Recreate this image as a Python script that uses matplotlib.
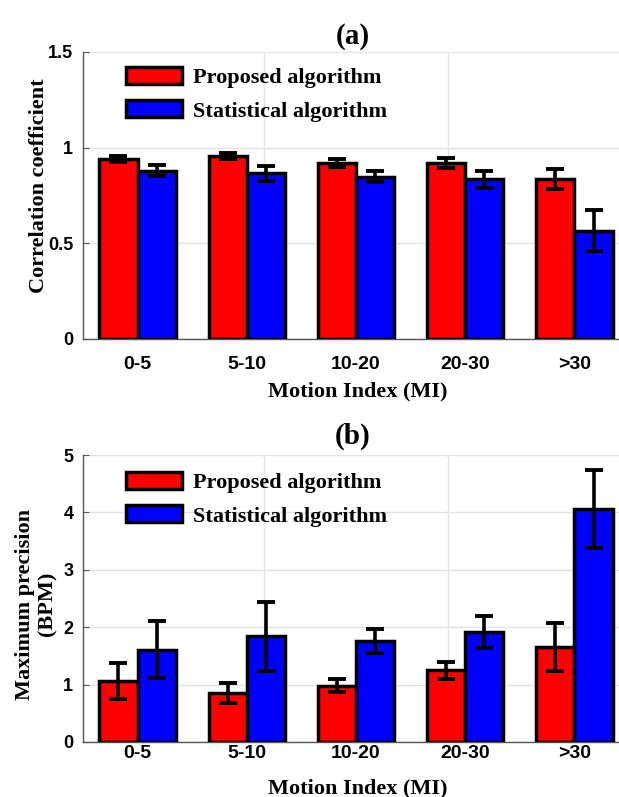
import numpy as np
import matplotlib
matplotlib.use("Agg")
import matplotlib.pyplot as plt

# ---------------- data ----------------
groups = ['0-5', '5-10', '10-20', '20-30', '>30']
labels = ['Proposed algorithm', 'Statistical algorithm']

corr_proposed = [0.94, 0.955, 0.92, 0.92, 0.835]
corr_proposed_err = [0.015, 0.015, 0.022, 0.028, 0.052]
corr_statistical = [0.88, 0.865, 0.847, 0.835, 0.565]
corr_statistical_err = [0.03, 0.04, 0.029, 0.045, 0.107]

prec_proposed = [1.06, 0.85, 0.98, 1.25, 1.66]
prec_proposed_err = [0.31, 0.175, 0.115, 0.145, 0.415]
prec_statistical = [1.61, 1.84, 1.76, 1.92, 4.06]
prec_statistical_err = [0.5, 0.6, 0.21, 0.28, 0.68]

# ---------------- style ----------------
W, H = 619, 797
DPI = 100
SERIF = 'Liberation Serif'
SANS = 'Liberation Sans'
FS = 16
COLORS = ['#ff0000', '#0000ff']
BAR_W = 0.35
GRID_X = [2.16, 3.84]  # the two vertical grid lines of the original


def px(x, y):
    # pixel position (from top-left) -> figure fraction
    return x / W, 1 - y / H


def panel(ax, a, a_err, b, b_err, ylim, yticks, yticklabels, title,
          title_y, legend_y, xtick_pad, xlabel_y):
    x = np.arange(1, len(groups) + 1)
    for i, (v, e) in enumerate([(a, a_err), (b, b_err)]):
        pos = x + (i - 0.5) * BAR_W
        ax.bar(pos, v, BAR_W, color=COLORS[i], edgecolor='black',
               linewidth=2.5, label=labels[i], zorder=3)
        ax.errorbar(pos, v, yerr=e, fmt='none', ecolor='black',
                    elinewidth=2.6, capsize=6.8, capthick=2.8, zorder=4)

    ax.set_xlim(0.5, 5.5)
    ax.set_ylim(*ylim)
    ax.set_yticks(yticks)
    ax.set_yticklabels(yticklabels, fontfamily=SANS, fontweight='bold',
                       fontsize=13)
    ax.set_xticks(x)
    ax.set_xticklabels(groups, fontfamily=SANS, fontweight='bold',
                       fontsize=14)
    ax.tick_params(axis='x', length=0, pad=xtick_pad)
    ax.tick_params(axis='y', direction='in', length=4, width=0.8,
                   color='#555555', pad=7)

    ax.grid(axis='y', color='#e3e3e3', linewidth=1.0, zorder=0)
    for gx in GRID_X:
        ax.axvline(gx, color='#e3e3e3', linewidth=1.0, zorder=0)
    for s in ['top', 'right']:
        ax.spines[s].set_visible(False)
    ax.spines['left'].set_color('#555555')
    ax.spines['bottom'].set_color('#555555')
    ax.spines['left'].set_linewidth(1.0)
    ax.spines['bottom'].set_linewidth(1.0)

    fig.text(*px(353, title_y), title, fontfamily=SERIF, fontweight='bold',
             fontsize=21, ha='center', va='center')
    fig.text(*px(358, xlabel_y), 'Motion Index (MI)', fontfamily=SERIF,
             fontweight='bold', fontsize=FS, ha='center', va='center')

    leg = ax.legend(loc='upper left', bbox_to_anchor=px(126, legend_y),
                    bbox_transform=fig.transFigure, frameon=False,
                    borderpad=0, borderaxespad=0, handlelength=2.5,
                    handleheight=0.8, handletextpad=0.5, labelspacing=0.55,
                    prop={'family': SERIF, 'weight': 'bold', 'size': FS})
    return leg


fig = plt.figure(figsize=(W / DPI, H / DPI), dpi=DPI)

# axes positions in pixels: left 83, x=5.5 lands just past the right edge
left = 83 / W
width = 546 / W
ax1 = fig.add_axes([left, 1 - 339 / H, width, 287 / H])
ax2 = fig.add_axes([left, 1 - 742 / H, width, 287 / H])

panel(ax1, corr_proposed, corr_proposed_err, corr_statistical,
      corr_statistical_err, (0, 1.5), [0, 0.5, 1, 1.5],
      ['0', '0.5', '1', '1.5'], '(a)', 36, 67, 12, 391)
panel(ax2, prec_proposed, prec_proposed_err, prec_statistical,
      prec_statistical_err, (0, 5), [0, 1, 2, 3, 4, 5],
      ['0', '1', '2', '3', '4', '5'], '(b)', 436, 472, 2, 788)

fig.text(*px(39, 186), 'Correlation coefficient', fontfamily=SERIF,
         fontweight='bold', fontsize=FS, rotation=90, ha='center',
         va='center')
fig.text(*px(36, 604), 'Maximum precision\n(BPM)', fontfamily=SERIF,
         fontweight='bold', fontsize=FS, rotation=90, ha='center',
         va='center', linespacing=1.15)

fig.savefig('out.png', dpi=DPI)
